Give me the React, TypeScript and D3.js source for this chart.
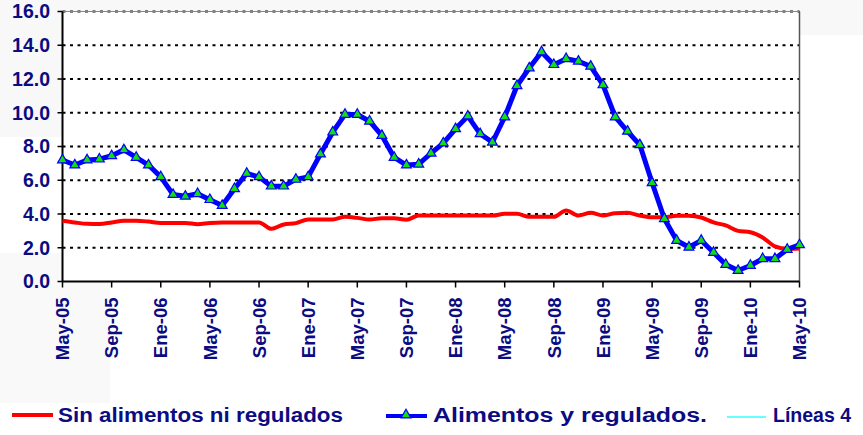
import React from "react";
import * as d3 from "d3";

const tickLabels = ["May-05","Sep-05","Ene-06","May-06","Sep-06","Ene-07","May-07","Sep-07","Ene-08","May-08","Sep-08","Ene-09","May-09","Sep-09","Ene-10","May-10"];
const yTicks = [0, 2, 4, 6, 8, 10, 12, 14, 16];

const sinAlimentos = [
  3.6, 3.5, 3.42, 3.41, 3.5, 3.6, 3.6, 3.55, 3.47, 3.47, 3.47, 3.4, 3.47, 3.5, 3.5, 3.5, 3.5, 3.12, 3.38, 3.46,
  3.67, 3.67, 3.67, 3.83, 3.77, 3.67, 3.75, 3.75, 3.66, 3.91, 3.91, 3.91, 3.91, 3.91, 3.91, 3.91, 4.01, 4.01, 3.83, 3.83,
  3.83, 4.21, 3.91, 4.07, 3.91, 4.05, 4.07, 3.91, 3.81, 3.81, 3.89, 3.89, 3.79, 3.5, 3.32, 3.0, 2.92, 2.61, 2.08, 1.93, 1.95,
];

const alimentosRegulados = [
  7.2, 6.9, 7.2, 7.25, 7.45, 7.8, 7.35, 6.9, 6.2, 5.15, 5.05, 5.2, 4.85, 4.5, 5.5, 6.4, 6.2, 5.65, 5.65, 6.05,
  6.2, 7.55, 8.85, 9.9, 9.9, 9.5, 8.65, 7.35, 6.9, 6.95, 7.6, 8.2, 9.05, 9.8, 8.75, 8.25, 9.75, 11.6, 12.65, 13.6,
  12.85, 13.2, 13.05, 12.75, 11.65, 9.75, 8.9, 8.1, 5.85, 3.72, 2.43, 2.03, 2.43, 1.72, 1.0, 0.65, 0.95, 1.35, 1.35, 1.9, 2.17,
];

const legendNames = ["Sin alimentos ni regulados", "Alimentos y regulados.", "Líneas 4"];

const W = 863, H = 435;
const L = 62.5, R = 799.5, T = 11.5, B = 281.5;
const textColor = "#0b0b82";
const font = "'Liberation Sans', Arial, sans-serif";

export default function App() {
  const n = alimentosRegulados.length;
  const x = d3.scaleLinear().domain([0, n - 1]).range([L, R]);
  const y = d3.scaleLinear().domain([0, 16]).range([B, T]);

  const redLine = d3.line<number>().x((_, i) => x(i)).y((d) => y(d)).curve(d3.curveMonotoneX)(sinAlimentos) || "";
  const blueLine = d3.line<number>().x((_, i) => x(i)).y((d) => y(d))(alimentosRegulados) || "";
  const tri = d3.symbol().type(d3.symbolTriangle).size(42)() || "";

  return (
    <svg width={W} height={H} style={{ position: "absolute", left: 0, top: 0, background: "#fff" }} fontFamily={font}>
      {/* faint background panels */}
      <rect x={0} y={0} width={228} height={137} fill="#f8f8f8" />
      <rect x={228} y={0} width={412} height={73} fill="#f8f8f8" />
      <rect x={640} y={0} width={223} height={35} fill="#f8f8f8" />
      <rect x={0} y={253} width={110} height={150} fill="#f9f9f9" />
      <rect x={L} y={T} width={R - L} height={B - T} fill="#ffffff" />

      {/* gridlines */}
      {yTicks.filter((t) => t > 0).map((t) => (
        <line key={t} x1={L} x2={R} y1={y(t)} y2={y(t)} stroke="#000" strokeWidth={2} strokeDasharray="3,4.5" />
      ))}
      {/* frame */}
      <line x1={L} x2={R} y1={T} y2={T} stroke="#888" strokeWidth={1} />
      <line x1={R} x2={R} y1={T} y2={B} stroke="#555" strokeWidth={1.5} />
      <line x1={L} x2={L} y1={T} y2={B} stroke="#000" strokeWidth={2} />
      <line x1={L} x2={R} y1={B} y2={B} stroke="#000" strokeWidth={2} />

      {/* y ticks + labels */}
      {yTicks.map((t) => (
        <g key={t}>
          <line x1={L - 5} x2={L} y1={y(t)} y2={y(t)} stroke="#000" strokeWidth={1.5} />
          <text x={50} y={y(t)} dy="0.35em" textAnchor="end" fontSize={19.5} fontWeight="bold" fill={textColor}>
            {t.toFixed(1)}
          </text>
        </g>
      ))}

      {/* x ticks + labels */}
      {tickLabels.map((lab, k) => {
        const xi = x(k * 4);
        return (
          <g key={lab}>
            <line x1={xi} x2={xi} y1={B} y2={B + 6} stroke="#000" strokeWidth={1.5} />
            <text
              transform={`translate(${xi},${B + 16}) rotate(-90)`}
              dy="0.36em"
              textAnchor="end"
              fontSize={18.5}
              fontWeight="bold"
              fill={textColor}
            >
              {lab}
            </text>
          </g>
        );
      })}

      {/* series */}
      <path d={redLine} fill="none" stroke="#ff0000" strokeWidth={4} strokeLinejoin="round" />
      <path d={blueLine} fill="none" stroke="#0000ff" strokeWidth={5} strokeLinejoin="round" />
      {alimentosRegulados.map((v, i) => (
        <path key={i} d={tri} transform={`translate(${x(i)},${y(v)})`} fill="#11dd11" stroke="#0000ff" strokeWidth={1.2} />
      ))}

      {/* legend */}
      <line x1={12} x2={53} y1={415} y2={415} stroke="#ff0000" strokeWidth={4} />
      <text x={58} y={421.5} fontSize={19.5} fontWeight="bold" fill={textColor} textLength={285} lengthAdjust="spacingAndGlyphs">{legendNames[0]}</text>
      <line x1={386} x2={427} y1={416} y2={416} stroke="#0000ff" strokeWidth={4} />
      <path d={tri} transform="translate(406,415)" fill="#11dd11" stroke="#0000ff" strokeWidth={1.2} />
      <text x={433} y={421.5} fontSize={19.5} fontWeight="bold" fill={textColor} textLength={274} lengthAdjust="spacingAndGlyphs">{legendNames[1]}</text>
      <line x1={727} x2={766} y1={417} y2={417} stroke="#66ffff" strokeWidth={2} />
      <text x={773} y={421.5} fontSize={19.5} fontWeight="bold" fill={textColor}>{legendNames[2]}</text>
    </svg>
  );
}
